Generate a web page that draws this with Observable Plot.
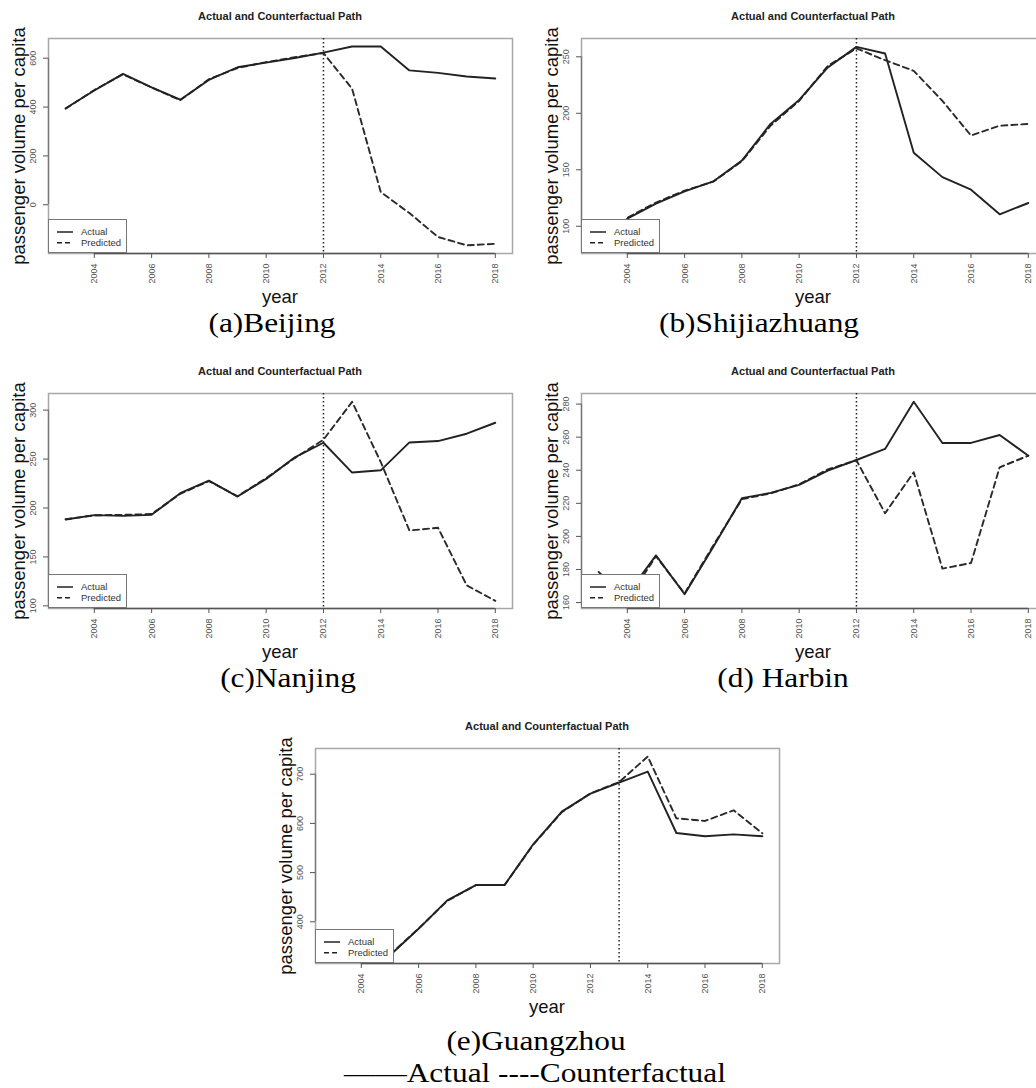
<!DOCTYPE html>
<html><head><meta charset="utf-8">
<script src="https://cdn.jsdelivr.net/npm/d3@7"></script>
<script src="https://cdn.jsdelivr.net/npm/@observablehq/plot@0.6"></script>
<style>
html,body{margin:0;padding:0;background:#fff;overflow:hidden;}
#fig{position:relative;width:1036px;height:1088px;overflow:hidden;font-family:"Liberation Sans",Arial,sans-serif;}
.abs{position:absolute;white-space:nowrap;line-height:1;}
.ttl{font-weight:bold;font-size:11px;color:#222;transform:translate(-50%,-50%);}
.ylab{font-size:18.5px;color:#111;transform:translate(-50%,-50%) rotate(-90deg);}
.xlab{font-size:18.5px;color:#111;transform:translate(-50%,-50%);}
.cap{font-family:"Liberation Serif","Times New Roman",serif;font-size:27px;color:#000;transform:translate(-50%,-50%) scaleX(1.16);}
.leg{background:#fff;border:1.3px solid #777;box-sizing:border-box;}
</style></head><body><div id="fig"></div>
<script>
// ---- data ----
const years = [2003,2004,2005,2006,2007,2008,2009,2010,2011,2012,2013,2014,2015,2016,2017,2018];
const xTicks = [2004,2006,2008,2010,2012,2014,2016,2018];

const beijingActual    = [395,468,536,481,430,511,563,582,601,623,648,648,550,540,525,517];
const beijingPredicted = [393,470,534,480,428,514,560,584,604,621,475,52,-34,-132,-166,-160];
const beijingTicks = [0,200,400,600];

const shijiazhuangActual    = [83,106.8,120,130.9,139.7,158.2,190.6,211.8,240.6,258.8,252.9,165,143.5,132.4,110.6,120.6];
const shijiazhuangPredicted = [84,107.5,121,131.5,139.5,157.5,189,211,242,257.4,247,237.6,211,180.3,189,190.6];
const shijiazhuangTicks = [100,150,200,250];

const nanjingActual    = [188.3,192.7,192,193,215.1,228,211.7,229.7,251.8,266.7,236.2,238.5,267,268.4,275.9,287.1];
const nanjingPredicted = [188.5,192.5,193,193.8,214.5,227.5,212,230.5,251,269.8,308.5,247,177,179.8,121,105.1];
const nanjingTicks = [100,150,200,250,300];

const harbinActual    = [176,165,188.5,165,193.6,223.1,226.3,231.2,239.8,246.2,252.9,281.4,256.5,256.5,261.3,248.8];
const harbinPredicted = [178.5,161.5,188,165.5,194.5,222.5,226,231.5,240.5,246,214,238.8,180.5,183.9,241.8,248.8];
const harbinTicks = [160,180,200,220,240,260,280];

const guangzhouActual    = [null,null,332,385.7,443.4,474.7,474.7,557.5,624,660.6,683,705.4,580.5,573.8,577.8,573.8];
const guangzhouPredicted = [null,null,333,386.5,442.5,474.5,474.5,556.5,623,661,684,736,610.4,605,626.7,579.9];
const guangzhouTicks = [400,500,600,700];

const titleText = "Actual and Counterfactual Path";
const yLabelText = "passenger volume per capita";
const xLabelText = "year";
const legendLabels = ["Actual","Predicted"];
const footerText = "——Actual ----Counterfactual";

// ---- layout ----
const panels = [
  {actual: beijingActual, predicted: beijingPredicted, ticks: beijingTicks, yDomain:[-199.6,680.7], treat:2012, left:48, top:38, caption:"(a)Beijing", capX:272, capY:323},
  {actual: shijiazhuangActual, predicted: shijiazhuangPredicted, ticks: shijiazhuangTicks, yDomain:[75.9,266.2], treat:2012, left:581, top:38, caption:"(b)Shijiazhuang", capX:759, capY:323},
  {actual: nanjingActual, predicted: nanjingPredicted, ticks: nanjingTicks, yDomain:[97.3,317], treat:2012, left:48, top:393, caption:"(c)Nanjing", capX:288, capY:678},
  {actual: harbinActual, predicted: harbinPredicted, ticks: harbinTicks, yDomain:[156.4,286.4], treat:2012, left:581, top:393, caption:"(d) Harbin", capX:783, capY:678},
  {actual: guangzhouActual, predicted: guangzhouPredicted, ticks: guangzhouTicks, yDomain:[315.2,752.3], treat:2013, left:315, top:748, caption:"(e)Guangzhou", capX:536, capY:1041}
];
const BW = 464, BH = 215;
const fig = document.getElementById("fig");

function addDiv(cls, text, x, y) {
  const d = document.createElement("div");
  d.className = "abs " + cls;
  d.textContent = text;
  d.style.left = x + "px";
  d.style.top = y + "px";
  fig.appendChild(d);
  return d;
}

for (const p of panels) {
  const data = years.map((yr, i) => ({year: yr, actual: p.actual[i], predicted: p.predicted[i]}));
  const mL = 40, mT = 22, mR = 6, mB = 50;
  const chart = Plot.plot({
    width: mL + BW + mR, height: mT + BH + mB,
    marginLeft: mL, marginTop: mT, marginRight: mR, marginBottom: mB,
    style: {background: "transparent", overflow: "visible"},
    x: {domain: [2002.4, 2018.6], axis: null},
    y: {domain: p.yDomain, axis: null},
    marks: [
      Plot.frame({stroke: "#a8a8a8", strokeWidth: 1.5}),
      Plot.ruleY([p.yDomain[0]], {x1: 2004, x2: 2018, stroke: "#555", strokeWidth: 1.3}),
      Plot.ruleX([2002.4], {y1: p.ticks[0], y2: p.ticks[p.ticks.length - 1], stroke: "#777", strokeWidth: 1.3}),
      Plot.axisX({ticks: xTicks, tickSize: 5, tickFormat: () => "", label: null, stroke: "#555"}),
      Plot.axisY({ticks: p.ticks, tickSize: 5, tickFormat: () => "", label: null, stroke: "#555"}),
      Plot.text(xTicks, {x: d => d, text: d => String(d), frameAnchor: "bottom", rotate: -90, textAnchor: "end", lineAnchor: "middle", dy: 10, fontSize: 9, fill: "#555", fontFamily: "Liberation Sans, Arial, sans-serif"}),
      Plot.text(p.ticks, {y: d => d, text: d => String(d), frameAnchor: "left", rotate: -90, textAnchor: "middle", lineAnchor: "middle", dx: -15, fontSize: 9, fill: "#555", fontFamily: "Liberation Sans, Arial, sans-serif"}),
      Plot.ruleX([p.treat], {stroke: "#222", strokeWidth: 1.5, strokeDasharray: "1.5,2.5"}),
      Plot.line(data, {x: "year", y: "predicted", stroke: "#2a2a2a", strokeWidth: 1.9, strokeDasharray: "6,4"}),
      Plot.line(data, {x: "year", y: "actual", stroke: "#222", strokeWidth: 1.9})
    ]
  });
  chart.style.position = "absolute";
  chart.style.left = (p.left - mL) + "px";
  chart.style.top = (p.top - mT) + "px";
  fig.appendChild(chart);

  // legend box (bottom-left of plot region)
  const leg = document.createElement("div");
  leg.className = "abs leg";
  leg.style.left = p.left + "px";
  leg.style.top = (p.top + BH - 34) + "px";
  leg.style.width = "79px";
  leg.style.height = "34px";
  const svg = d3.create("svg").attr("width", 79).attr("height", 34).style("position", "absolute").style("left", "-1px").style("top", "-1px");
  legendLabels.forEach((lab, i) => {
    const yy = 13 + i * 10.7;
    svg.append("line").attr("x1", 9).attr("x2", 25).attr("y1", yy).attr("y2", yy)
      .attr("stroke", "#222").attr("stroke-width", 1.5).attr("stroke-dasharray", i ? "5,3" : null);
    svg.append("text").attr("x", 33).attr("y", yy).attr("dy", "0.35em").attr("font-size", 9.5)
      .attr("fill", "#333").attr("font-family", "Liberation Sans, Arial, sans-serif").text(lab);
  });
  leg.appendChild(svg.node());
  fig.appendChild(leg);

  addDiv("ttl", titleText, p.left + BW / 2, p.top - 22);
  addDiv("ylab", yLabelText, p.left - 29, p.top + BH / 2);
  addDiv("xlab", xLabelText, p.left + BW / 2, p.top + BH + 44);
  addDiv("cap", p.caption, p.capX, p.capY);
}
addDiv("cap", footerText, 535, 1073);
</script>
</body></html>
